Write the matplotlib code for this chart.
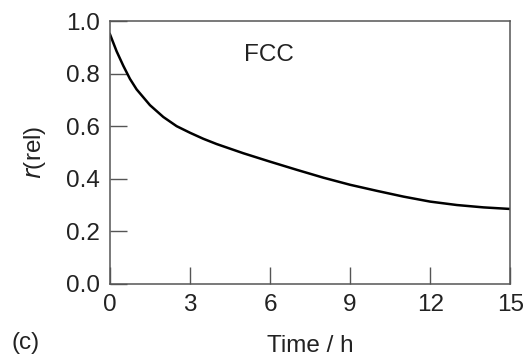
import matplotlib
matplotlib.use("Agg")
import matplotlib.pyplot as plt

# relative r versus time
time_h = [0, 0.25, 0.5, 0.75, 1, 1.5, 2, 2.5, 3, 3.5, 4, 5, 6, 7, 8, 9, 10, 11, 12, 13, 14, 15]
r_rel = [0.95, 0.885, 0.83, 0.78, 0.74, 0.68, 0.635, 0.60, 0.575, 0.552, 0.532, 0.497,
         0.465, 0.434, 0.404, 0.377, 0.354, 0.332, 0.313, 0.300, 0.291, 0.285]

x_ticks = [0, 3, 6, 9, 12, 15]
y_ticks = [0.0, 0.2, 0.4, 0.6, 0.8, 1.0]

plt.rcParams["font.family"] = ["Liberation Sans", "DejaVu Sans"]
FS = 17.5
TXT = "#222222"

fig = plt.figure(figsize=(5.26, 3.63), dpi=100)
ax = fig.add_axes([0.209, 0.218, 0.761, 0.724])

ax.plot(time_h, r_rel, color="black", linewidth=1.8, solid_joinstyle="round")

ax.set_xlim(0, 15)
ax.set_ylim(0, 1.0)
ax.set_xticks(x_ticks)
ax.set_yticks(y_ticks)
ax.set_yticklabels([f"{v:.1f}" for v in y_ticks])

ax.tick_params(direction="in", length=12, width=1, color="#555555",
               labelsize=FS, labelcolor=TXT)
ax.tick_params(axis="x", pad=7)
ax.tick_params(axis="y", pad=7)
for sp in ax.spines.values():
    sp.set_color("#555555")
    sp.set_linewidth(1.1)

ax.set_xlabel("Time / h", fontsize=FS, color=TXT, labelpad=14)
ax.set_ylabel(r"$\it{r}$(rel)", fontsize=FS, color=TXT, labelpad=13)

ax.text(5.96, 0.87, "FCC", fontsize=FS, color=TXT, ha="center", va="center")
fig.text(0.022, 0.055, "(c)", fontsize=FS, color=TXT, ha="left", va="center")

fig.savefig("out.png", dpi=100)
